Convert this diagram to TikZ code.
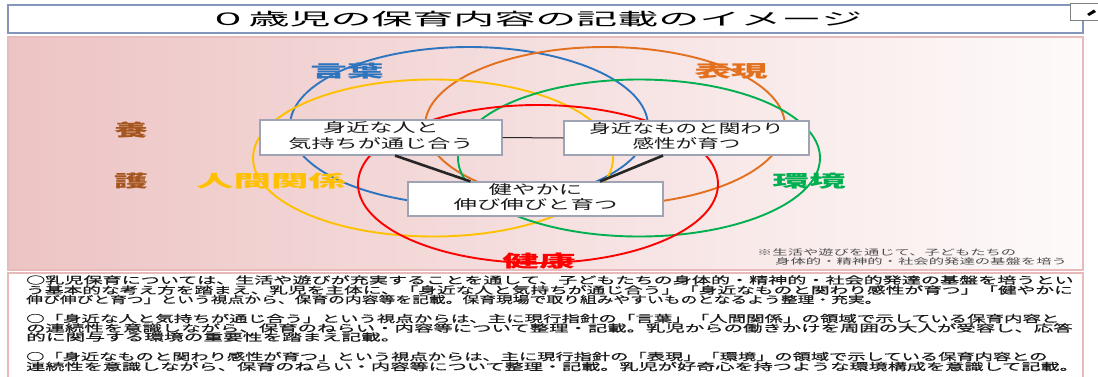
\documentclass[tikz,border=0pt]{standalone}
\usepackage{fontspec}
\usepackage{graphicx}
\usetikzlibrary{calc}
\newfontfamily\jp{Noto Sans CJK JP}
\newfontfamily\jpt[FakeBold=0.6]{Noto Sans CJK JP}
\definecolor{cBlue}{HTML}{2E75C0}
\definecolor{cOrange}{HTML}{E2701E}
\definecolor{cYellow}{HTML}{FFC000}
\definecolor{cGreen}{HTML}{00B050}
\definecolor{cRed}{HTML}{FF0000}
\definecolor{cBrown}{HTML}{A5561E}
\definecolor{boxGray}{HTML}{9EA4B4}
\definecolor{titleB}{HTML}{8596BC}
\definecolor{pinkB}{HTML}{E8BABA}
\definecolor{pnkL}{HTML}{EDC4C4}
\definecolor{pnkM}{HTML}{F6E0E0}
\definecolor{pnkR}{HTML}{FEFAFA}
\definecolor{txtDark}{HTML}{1A1A1A}
\definecolor{noteTxt}{HTML}{4A4A4A}
\definecolor{lineDark}{HTML}{262626}
\newcommand{\jx}[2]{\scalebox{#1}[1]{#2}}
\tikzset{
  ring/.style={line width=1.9pt},
  lbl/.style={inner sep=0pt, font=\jp\bfseries\fontsize{17}{17}\selectfont},
  boxn/.style={draw=boxGray, fill=white, line width=1.1pt, inner sep=0pt,
               font=\jp\fontsize{13}{15}\selectfont, text=txtDark},
  btxt/.style={anchor=west, inner sep=0pt, font=\jpt\fontsize{10}{10}\selectfont, text=txtDark},
  ntxt/.style={anchor=west, inner sep=0pt, font=\jp\fontsize{8}{8}\selectfont, text=noteTxt},
  thin link/.style={draw=lineDark, line width=1pt},
  thick link/.style={draw=lineDark, line width=2.6pt},
}
\begin{document}
\begin{tikzpicture}[x=1pt,y=-1pt]
\useasboundingbox (0,0) rectangle (1098,376);
% title box
\draw[titleB, line width=1.5pt, fill=white] (8,5) rectangle (1083,33);
\node[inner sep=0pt, font=\jp\fontsize{17}{17}\selectfont, text=black] (title) at (535,19)
  {\jx{2.41}{０歳児の保育内容の記載のイメージ}};
% small box top right
\draw[gray, line width=1pt, fill=white] (1070,3) rectangle (1104,20);
\fill[black] (1087,14) -- (1094,9.5) -- (1096,12) -- (1089,16) -- cycle;
% upper panel
\shade[left color=pnkL, middle color=pnkM, right color=pnkR] (8,37) rectangle (1083,270);
\draw[pinkB, line width=1.2pt] (8,37) rectangle (1083,270);
% lower panel
\draw[pinkB, line width=1.4pt, fill=white] (8,273) rectangle (1083,382);
% rings
\draw[ring, cBlue]   (469,126) ellipse [x radius=179, y radius=79];
\draw[ring, cOrange] (605,126) ellipse [x radius=180, y radius=79];
\draw[ring, cYellow] (433,158) ellipse [x radius=180, y radius=78.5];
\draw[ring, cGreen]  (639,158) ellipse [x radius=181, y radius=78.5];
\draw[ring, cRed]    (538,184) ellipse [x radius=180, y radius=79];
% labels
\node[lbl, text=cBlue]   (lKotoba)  at (347,71)  {\jx{2.15}{言葉}};
\node[lbl, text=cOrange] (lHyogen)  at (731,71)  {\jx{2.15}{表現}};
\node[lbl, text=cGreen]  (lKankyo)  at (809,181) {\jx{2.15}{環境}};
\node[lbl, text=cRed]    (lKenko)   at (539,261) {\jx{2.15}{健康}};
\node[lbl, text=cYellow] (lNingen)  at (271,181) {\jx{2.2}{人間関係}};
\node[lbl, text=cBrown]  (lYo)      at (131,130) {\jx{2.0}{養}};
\node[lbl, text=cBrown]  (lGo)      at (131,181) {\jx{2.0}{護}};
% boxes
\node[boxn, minimum width=242pt, minimum height=35pt] (A) at (381,137.5)
  {\jx{1.78}{\begin{tabular}{@{}c@{}}身近な人と\\気持ちが通じ合う\end{tabular}}};
\node[boxn, minimum width=245pt, minimum height=34pt] (B) at (686.5,138)
  {\jx{1.66}{\begin{tabular}{@{}c@{}}身近なものと関わり\\感性が育つ\end{tabular}}};
\node[boxn, minimum width=255pt, minimum height=34pt] (C) at (535.5,199)
  {\jx{1.8}{\fontsize{13}{13.5}\selectfont\begin{tabular}{@{}c@{}}健やかに\\伸び伸びと育つ\end{tabular}}};
% connectors
\draw[thin link] (A.east) -- (B.west);
\draw[thick link] ($(A.south)+(14,0)$) -- ($(C.north)+(-65,0)$);
\draw[thick link] ($(B.south)+(-23.5,0)$) -- ($(C.north)+(64.5,0)$);
% note
\node[ntxt] (n1) at (757,252) {\jx{1.91}{※生活や遊びを通じて、子どもたちの}};
\node[ntxt] (n2) at (775,261) {\jx{1.92}{身体的・精神的・社会的発達の基盤を培う}};
% body text
\node[btxt] (p1a) at (26,280) {\jx{1.909}{○乳児保育については、生活や遊びが充実することを通して、子どもたちの身体的・精神的・社会的発達の基盤を培うとい}};
\node[btxt] (p1b) at (26,290) {\jx{1.87}{う基本的な考え方を踏まえ、乳児を主体に、「身近な人と気持ちが通じ合う」「身近なものと関わり感性が育つ」「健やかに}};
\node[btxt] (p1c) at (26,299.5) {\jx{1.678}{伸び伸びと育つ」という視点から、保育の内容等を記載。保育現場で取り組みやすいものとなるよう整理・充実。}};
\node[btxt] (p2a) at (26,318.5) {\jx{1.846}{○「身近な人と気持ちが通じ合う」という視点からは、主に現行指針の「言葉」「人間関係」の領域で示している保育内容と}};
\node[btxt] (p2b) at (26,328) {\jx{1.939}{の連続性を意識しながら、保育のねらい・内容等について整理・記載。乳児からの働きかけを周囲の大人が受容し、応答}};
\node[btxt] (p2c) at (26,337) {\jx{1.97}{的に関与する環境の重要性を踏まえ記載。}};
\node[btxt] (p3a) at (26,356.5) {\jx{1.825}{○「身近なものと関わり感性が育つ」という視点からは、主に現行指針の「表現」「環境」の領域で示している保育内容との}};
\node[btxt] (p3b) at (26,366.5) {\jx{1.916}{連続性を意識しながら、保育のねらい・内容等について整理・記載。乳児が好奇心を持つような環境構成を意識して記載。}};
\end{tikzpicture}
\end{document}
